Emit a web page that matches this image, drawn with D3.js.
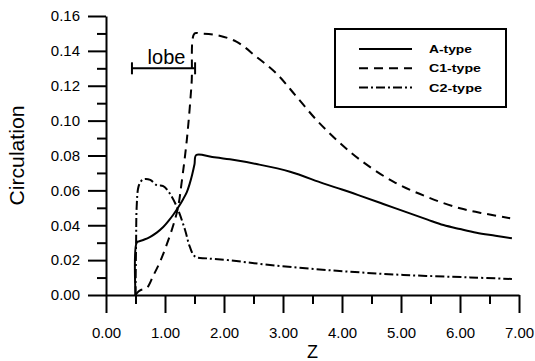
<!DOCTYPE html>
<html>
<head>
<meta charset="utf-8">
<script src="https://cdn.jsdelivr.net/npm/d3@7"></script>
<style>
  html, body { margin: 0; padding: 0; background: #fff; }
  svg { display: block; }
  text { font-family: "Liberation Sans", Arial, sans-serif; fill: #000; }
</style>
</head>
<body>
<svg id="chart" width="535" height="361"></svg>
<script>
// Circulation along Z for the three vortex types
const zA = [0.50, 0.52, 0.56, 0.65, 0.75, 0.86, 0.97, 1.06, 1.14, 1.22, 1.30, 1.37, 1.42, 1.46, 1.50, 1.53,
            1.80, 2.10, 2.55, 3.12, 3.68, 4.00, 4.30, 4.70, 5.15, 5.45, 5.72, 6.00, 6.28, 6.60, 6.88];
const vA = [0.000, 0.030, 0.0308, 0.0318, 0.0334, 0.0358, 0.0390, 0.0425, 0.0460, 0.0500, 0.0545, 0.0590, 0.0640, 0.0690, 0.0750, 0.0803,
            0.0792, 0.0778, 0.0751, 0.0707, 0.0640, 0.0605, 0.0570, 0.0522, 0.0468, 0.0432, 0.0401, 0.0378, 0.0357, 0.0340, 0.0325];

const zC1 = [0.50, 0.55, 0.60, 0.69, 0.80, 0.915, 1.03, 1.14, 1.22, 1.28, 1.37, 1.45, 1.50, 1.59, 1.88,
             2.21, 2.55, 2.89, 3.23, 3.57, 3.91, 4.31, 4.87, 5.43, 6.00, 6.45, 6.85];
const vC1 = [0.000, 0.002, 0.003, 0.004, 0.011, 0.019, 0.029, 0.040, 0.050, 0.064, 0.089, 0.121, 0.150, 0.150, 0.149,
             0.1453, 0.1366, 0.1270, 0.1137, 0.1003, 0.0889, 0.0774, 0.0650, 0.0564, 0.0497, 0.0465, 0.0440];

const zC2 = [0.50, 0.51, 0.52, 0.55, 0.60, 0.65, 0.75, 0.86, 0.97, 1.08, 1.20, 1.34, 1.42, 1.51, 1.71,
             2.07, 2.78, 3.91, 5.04, 6.17, 6.88];
const vC2 = [0.000, 0.030, 0.0506, 0.062, 0.0655, 0.0665, 0.0660, 0.0630, 0.0625, 0.0583, 0.0506, 0.0373, 0.0277, 0.0220, 0.0210,
             0.0200, 0.0172, 0.0139, 0.0115, 0.0101, 0.0092];

const seriesNames = ["A-type", "C1-type", "C2-type"];
const seriesDash = [null, "9,6", "9,3,2,3"];

const xMajor = [0, 1, 2, 3, 4, 5, 6, 7];
const xMinor = [0.5, 1.5, 2.5, 3.5, 4.5, 5.5, 6.5];
const yMajor = [0, 0.02, 0.04, 0.06, 0.08, 0.10, 0.12, 0.14, 0.16];
const yMinor = [0.01, 0.03, 0.05, 0.07, 0.09, 0.11, 0.13, 0.15];

// lobe extent marker
const lobeRange = [0.44, 1.51];
const lobeLevel = 0.13;

const svg = d3.select("#chart");
const x = d3.scaleLinear().domain([0, 7]).range([106, 519]);
const y = d3.scaleLinear().domain([0, 0.16]).range([295, 16]);
const fmt = d3.format(".2f");
const font = "Liberation Sans, Arial, sans-serif";

// minor ticks
svg.append("g").attr("transform", `translate(0,${y(0)})`)
  .call(d3.axisBottom(x).tickValues(xMinor).tickSize(9).tickFormat(""))
  .call(g => g.select(".domain").remove())
  .call(g => g.selectAll("line").attr("stroke-width", 2));
svg.append("g").attr("transform", `translate(${x(0)},0)`)
  .call(d3.axisLeft(y).tickValues(yMinor).tickSize(9).tickFormat(""))
  .call(g => g.select(".domain").remove())
  .call(g => g.selectAll("line").attr("stroke-width", 2));

// major ticks with labels
svg.append("g").attr("transform", `translate(0,${y(0)})`)
  .call(d3.axisBottom(x).tickValues(xMajor).tickSize(18).tickPadding(14).tickSizeOuter(0).tickFormat(fmt))
  .call(g => g.select(".domain").attr("stroke-width", 2))
  .call(g => g.selectAll("line").attr("stroke-width", 2))
  .call(g => g.selectAll("text").attr("font-size", 15).attr("font-family", font));
svg.append("g").attr("transform", `translate(${x(0)},0)`)
  .call(d3.axisLeft(y).tickValues(yMajor).tickSize(18).tickPadding(8).tickSizeOuter(0).tickFormat(fmt))
  .call(g => g.select(".domain").attr("stroke-width", 2))
  .call(g => g.selectAll("line").attr("stroke-width", 2))
  .call(g => g.selectAll("text").attr("font-size", 15).attr("font-family", font));

// axis titles
svg.append("text").attr("x", (x(0) + x(7)) / 2).attr("y", 358)
  .attr("text-anchor", "middle").attr("font-size", 18).text("Z");
svg.append("text").attr("transform", `translate(24,${(y(0) + y(0.16)) / 2}) rotate(-90)`)
  .attr("text-anchor", "middle").attr("font-size", 20).attr("textLength", 100)
  .attr("lengthAdjust", "spacingAndGlyphs").text("Circulation");

// curves
const line = d3.line().curve(d3.curveCatmullRom.alpha(0.5)).x(d => x(d[0])).y(d => y(d[1]));
const allSeries = [d3.zip(zA, vA), d3.zip(zC1, vC1), d3.zip(zC2, vC2)];
allSeries.forEach((pts, i) => {
  svg.append("path").datum(pts)
    .attr("d", line)
    .attr("fill", "none")
    .attr("stroke", "#000")
    .attr("stroke-width", 2)
    .attr("stroke-linejoin", "round")
    .attr("stroke-dasharray", seriesDash[i]);
});

// lobe bracket
const lobe = svg.append("g").attr("stroke", "#000").attr("stroke-width", 2);
lobe.append("line").attr("x1", x(lobeRange[0])).attr("x2", x(lobeRange[1]))
  .attr("y1", y(lobeLevel)).attr("y2", y(lobeLevel));
lobeRange.forEach(v => {
  lobe.append("line").attr("x1", x(v)).attr("x2", x(v))
    .attr("y1", y(lobeLevel) - 6).attr("y2", y(lobeLevel) + 6);
});
svg.append("text").attr("x", x((lobeRange[0] + lobeRange[1]) / 2) + 3).attr("y", y(lobeLevel) - 4)
  .attr("text-anchor", "middle").attr("font-size", 20).text("lobe");

// legend
const legend = svg.append("g");
legend.append("rect").attr("x", 335).attr("y", 29).attr("width", 171).attr("height", 78)
  .attr("fill", "#fff").attr("stroke", "#000").attr("stroke-width", 2);
const labelWidths = [43, 52, 53];
seriesNames.forEach((name, i) => {
  const ry = 49 + i * 19.3;
  legend.append("line").attr("x1", 359).attr("x2", 412).attr("y1", ry).attr("y2", ry)
    .attr("stroke", "#000").attr("stroke-width", 2).attr("stroke-dasharray", seriesDash[i]);
  legend.append("text").attr("x", 429).attr("y", ry + 4)
    .attr("font-size", 11).attr("font-weight", "bold")
    .attr("textLength", labelWidths[i]).attr("lengthAdjust", "spacingAndGlyphs")
    .text(name);
});
</script>
</body>
</html>
